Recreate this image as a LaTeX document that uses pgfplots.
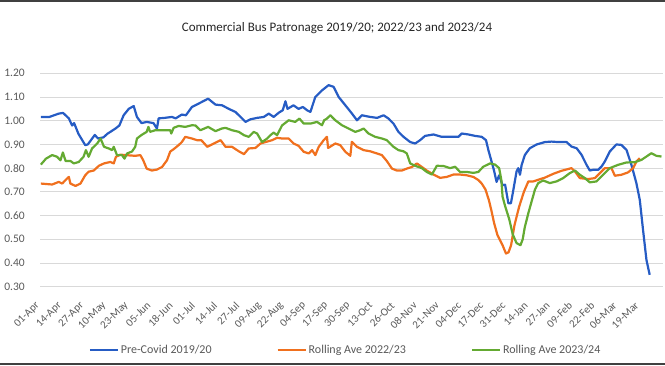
\documentclass[border=0pt]{standalone}
\usepackage{fontspec}
\setmainfont{Carlito}
\usepackage{pgfplots}
\pgfplotsset{compat=1.18}
\definecolor{cblue}{RGB}{38,92,196}
\definecolor{corange}{RGB}{240,112,30}
\definecolor{cgreen}{RGB}{100,170,50}
\definecolor{txt}{RGB}{89,89,89}
\definecolor{gridc}{RGB}{217,217,217}
\begin{document}
\begin{tikzpicture}
\path[use as bounding box] (0pt,0pt) rectangle (665pt,365pt);
\fill[black!75] (0pt,363.3pt) rectangle (665pt,365pt);
\fill[black!75] (0pt,0pt) rectangle (665pt,2.2pt);
\node[font=\fontsize{13}{15}\selectfont, text=black!85] at (337pt,337pt) {Commercial Bus Patronage 2019/20; 2022/23 and 2023/24};
\begin{axis}[
  at={(40pt,78.3pt)}, anchor=south west, scale only axis,
  width=623pt, height=213.4pt,
  xmin=-0.5, xmax=364.5, ymin=0.3, ymax=1.2,
  axis line style={draw=none},
  major tick length=0pt,
  ymajorgrids, grid style={gridc, line width=0.8pt},
  ytick={0.3,0.4,0.5,0.6,0.7,0.8,0.9,1.0,1.1,1.2},
  yticklabel style={font=\fontsize{11.5}{13}\selectfont, text=txt, inner sep=0pt, xshift=-15pt, anchor=east,
    /pgf/number format/.cd, fixed, fixed zerofill, precision=2, assume math mode=true},
  xtick={0,13,26,39,52,65,78,91,104,117,130,143,156,169,182,195,208,221,234,247,260,273,286,299,312,325,338,351},
  xticklabels={01-Apr,14-Apr,27-Apr,10-May,23-May,05-Jun,18-Jun,01-Jul,14-Jul,27-Jul,09-Aug,22-Aug,04-Sep,17-Sep,30-Sep,13-Oct,26-Oct,08-Nov,21-Nov,04-Dec,17-Dec,31-Dec,14-Jan,27-Jan,09-Feb,22-Feb,06-Mar,19-Mar},
  xticklabel style={font=\fontsize{11}{13}\selectfont, text=txt, inner sep=0pt, xshift=-3pt, yshift=-17pt, rotate=45, anchor=east},
  legend columns=3,
  legend style={at={(axis description cs:0.078,-0.2966)}, anchor=west, draw=none, fill=none, inner sep=0pt,
    font=\fontsize{12}{14}\selectfont, text=txt,
    /tikz/every even column/.append style={column sep=63pt}},
  legend cell align=left,
  legend image code/.code={\draw[#1, line width=2pt] (0pt,0pt) -- (28pt,0pt);},
  every axis plot/.append style={line width=2.2pt, line join=round, no markers},
]
\addplot[cblue] coordinates {
(0,1.016)(5,1.016)(10.5,1.03)(13,1.033)(16.4,1.01)(18.3,0.98)(19.5,0.99)(22,0.945)(26,0.897)(27.5,0.90)
(31.6,0.94)(33.5,0.925)(36.7,0.93)(39,0.945)(43.7,0.967)(46,0.98)(48.5,1.023)(51.5,1.05)(54.4,1.062)(56.3,1.016)
(59,0.99)(62,0.995)(66,0.99)(68,0.967)(69,1.01)(72.5,1.012)(76.8,1.016)(79,1.01)(82.6,1.026)(85,1.023)
(88.5,1.058)(92.4,1.072)(94.5,1.08)(98,1.093)(102.3,1.068)(106.2,1.065)(110.1,1.05)(114,1.037)(117,1.016)(119.9,0.995)
(122.8,1.006)(126.7,1.012)(130.6,1.016)(133.5,1.03)(136.4,1.016)(139.4,1.034)(141.7,1.044)(143.3,1.082)(144.5,1.05)(148,1.065)
(151,1.05)(153.5,1.058)(156,1.044)(157.9,1.037)(160.8,1.10)(164.7,1.128)(168.6,1.15)(171.5,1.143)(174.5,1.10)(178.4,1.065)
(182.3,1.03)(185.2,1.002)(188.1,1.023)(193,1.016)(197,1.012)(200.8,1.023)(203.7,1.009)(206.6,0.988)(209.5,0.953)(212.5,0.932)
(216.4,0.91)(219.3,0.904)(222.2,0.918)(225.1,0.936)(230,0.942)(234.9,0.932)(239.8,0.932)(244.6,0.932)(246.6,0.946)(250.5,0.942)
(254.4,0.936)(258.3,0.932)(260.8,0.918)(262.2,0.876)(264.1,0.827)(265.5,0.79)(267,0.742)(268.5,0.77)(270.5,0.728)(272,0.73)
(273.9,0.652)(275.4,0.652)(276.5,0.695)(278.7,0.786)(279.7,0.80)(280.7,0.772)(281.7,0.814)(283.6,0.856)(286.5,0.884)(290.5,0.90)
(295.3,0.91)(299.2,0.912)(303.1,0.91)(308,0.91)(310.9,0.891)(313.9,0.884)(316.8,0.856)(319.7,0.814)(321.6,0.79)(323.5,0.793)
(326.5,0.793)(328.5,0.807)(330.4,0.828)(333.3,0.87)(337.2,0.90)(340.1,0.898)(343.1,0.877)(346,0.814)(348.9,0.737)(350.9,0.666)
(352.8,0.54)(354.8,0.413)(356.7,0.35)
};
\addlegendentry{Pre-Covid 2019/20}
\addplot[corange] coordinates {
(0,0.735)(6.6,0.731)(10.5,0.742)(12.5,0.735)(14.5,0.75)(16.4,0.763)(17.3,0.735)(20.3,0.725)(23.2,0.735)(26,0.77)
(28,0.785)(31,0.79)(34,0.81)(37,0.82)(40.7,0.826)(42.7,0.82)(44,0.848)(46.6,0.857)(49.5,0.855)(55.3,0.852)
(58.3,0.855)(60,0.833)(62,0.798)(65,0.79)(68,0.794)(71,0.805)(73.9,0.833)(75.8,0.87)(77.8,0.88)(80.7,0.897)
(82.6,0.91)(84.6,0.932)(88.5,0.925)(91.5,0.918)(94,0.918)(97.5,0.89)(101.4,0.904)(105.3,0.918)(108.2,0.89)(112,0.89)
(116,0.871)(119,0.859)(121.8,0.883)(125.7,0.885)(128.7,0.904)(131.6,0.91)(135.5,0.918)(138.4,0.928)(141.3,0.925)(145.2,0.925)
(148.1,0.904)(151,0.894)(154,0.869)(157,0.862)(158.9,0.876)(160.8,0.855)(162.8,0.89)(165.7,0.918)(167.6,0.932)(168.3,0.885)
(172.5,0.904)(175.4,0.897)(178.4,0.869)(181.3,0.852)(182.2,0.911)(185.2,0.89)(189.1,0.876)(193,0.871)(196.9,0.862)(199.8,0.855)
(202.7,0.83)(205.7,0.798)(208.6,0.79)(211.5,0.79)(214.4,0.798)(217.4,0.805)(220.3,0.82)(223.2,0.805)(226.1,0.79)(230,0.773)
(233.9,0.759)(237.8,0.763)(241.7,0.773)(245.6,0.773)(249.5,0.77)(253.4,0.763)(256.3,0.75)(258.3,0.735)(260.5,0.71)(262.5,0.665)
(264,0.62)(265.6,0.567)(267.5,0.518)(270.5,0.475)(272.5,0.44)(274,0.445)(275.5,0.475)(277.5,0.56)(280.2,0.637)(283,0.70)
(285.6,0.744)(288.5,0.744)(291,0.75)(295.3,0.76)(300.2,0.776)(305.1,0.789)(310.9,0.80)(312.9,0.786)(315.8,0.758)(320.7,0.754)
(324.6,0.758)(327.5,0.779)(330.4,0.80)(334.3,0.80)(336.3,0.768)(340.1,0.772)(344,0.782)(347,0.80)(348.9,0.828)(350.9,0.842)
};
\addlegendentry{Rolling Ave 2022/23}
\addplot[cgreen] coordinates {
(0,0.815)(3,0.84)(6.6,0.855)(9.5,0.848)(11.5,0.833)(12.9,0.866)(14.5,0.83)(17.4,0.83)(19.3,0.82)(22.2,0.826)
(25,0.848)(26.4,0.876)(28,0.848)(30,0.883)(33,0.904)(35,0.925)(37,0.89)(39.8,0.883)(41.7,0.876)(42.7,0.89)
(44.6,0.855)(47.5,0.855)(49,0.84)(50.5,0.862)(53.4,0.87)(55.3,0.89)(56.3,0.925)(59,0.94)(62,0.953)(63,0.974)
(64,0.953)(67,0.96)(72.9,0.96)(75.8,0.96)(76.4,0.946)(77.8,0.97)(80.7,0.978)(84.6,0.974)(88.5,0.981)(90.6,0.98)
(92.4,0.967)(93.5,0.96)(98,0.974)(102.3,0.956)(106,0.967)(108.2,0.97)(112,0.96)(116,0.953)(119,0.939)(121.8,0.932)
(124.7,0.953)(126.7,0.946)(129.6,0.91)(132.6,0.925)(134.5,0.939)(136.4,0.95)(138.4,0.939)(141.3,0.98)(145.2,1.002)(149,0.995)
(151.5,1.009)(154,0.988)(158,0.988)(161.8,0.995)(164.7,0.981)(166,1.002)(167.6,1.009)(169.6,1.023)(172.5,1.002)(176.4,0.981)
(180.3,0.967)(184.2,0.953)(187.1,0.96)(189.1,0.967)(192,0.946)(195.9,0.932)(199.8,0.925)(202.7,0.918)(206.6,0.89)(209.5,0.876)
(212.5,0.871)(214.4,0.862)(216.4,0.82)(219.3,0.81)(223.2,0.80)(226.1,0.784)(229.1,0.773)(232,0.81)(235.9,0.809)(239.8,0.80)
(242.7,0.806)(245.6,0.784)(249.5,0.784)(253.4,0.78)(256.3,0.784)(259.2,0.806)(263.2,0.82)(266.1,0.815)(268.5,0.80)(269.8,0.75)
(270.5,0.68)(272,0.64)(274.4,0.585)(276.5,0.52)(278.7,0.484)(281,0.475)(282.3,0.50)(283.5,0.55)(285.6,0.61)(287.5,0.659)
(289.5,0.71)(291.4,0.737)(294.3,0.748)(298.2,0.737)(302.1,0.744)(306,0.758)(309.9,0.779)(312.9,0.79)(315.8,0.772)(318.7,0.758)
(321.6,0.74)(325.5,0.744)(329.4,0.772)(333.3,0.80)(338.2,0.814)(343.1,0.824)(348,0.825)(351.9,0.835)(354.8,0.849)(357.7,0.863)
(360.6,0.852)(363.6,0.849)
};
\addlegendentry{Rolling Ave 2023/24}
\end{axis}
\end{tikzpicture}
\end{document}
